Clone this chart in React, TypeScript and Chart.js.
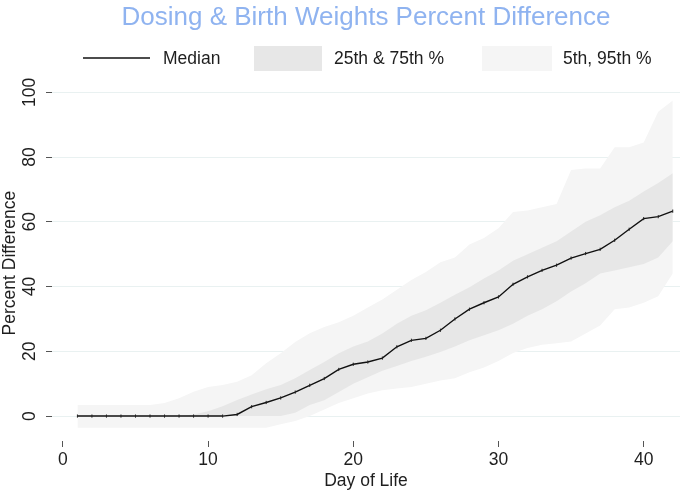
import React, { useEffect, useRef } from 'react';
import { Chart, registerables } from 'chart.js';

Chart.register(...registerables);

const titleText = 'Dosing & Birth Weights Percent Difference';
const xTitle = 'Day of Life';
const yTitle = 'Percent Difference';
const legendLabels = ['Median', '25th & 75th %', '5th, 95th %'];
const xTicks = [0, 10, 20, 30, 40];
const yTicks = [0, 20, 40, 60, 80, 100];

const days = [1, 2, 3, 4, 5, 6, 7, 8, 9, 10, 11, 12, 13, 14, 15, 16, 17, 18, 19, 20, 21, 22, 23, 24, 25, 26, 27, 28, 29, 30, 31, 32, 33, 34, 35, 36, 37, 38, 39, 40, 41, 42];

const median = [0, 0, 0, 0, 0, 0, 0, 0, 0, 0, 0, 0.5, 2.9, 4.2, 5.6, 7.4, 9.5, 11.6, 14.4, 16, 16.7, 17.9, 21.4, 23.4, 24, 26.5, 30, 33, 35, 36.8, 40.7, 43, 45, 46.6, 48.8, 50.2, 51.5, 54.3, 57.7, 61, 61.6, 63.3];

const p75 = [0, 0, 0, 0, 0, 0, 0, 0, 0.5, 1.5, 3, 5, 6.7, 8.3, 9.6, 11.7, 14.2, 16.7, 19.4, 21.5, 23, 25.5, 28.5, 31, 32.7, 35, 37.5, 39.8, 42.5, 45, 48, 50, 52, 54, 57, 60, 62, 64.5, 66.5, 69.4, 72, 75];

const p25 = [0, 0, 0, 0, 0, 0, 0, 0, 0, 0, 0, 0, 0, 0, 0, 1, 3.4, 4.9, 7.4, 10, 12, 14, 15.5, 17, 18.3, 19.8, 21.5, 23.4, 25, 26.5, 28.5, 31, 33, 35.5, 38.5, 41, 44, 45, 46, 47, 49, 54];

const p95 = [3.4, 3.4, 3.4, 3.4, 3.4, 3.4, 4, 5.5, 7.5, 9, 9.6, 10.6, 12.6, 16.3, 19.4, 22.9, 25.6, 27.5, 29, 31, 33.5, 36, 39, 42, 44.5, 47.5, 49, 53, 55, 58, 63, 63.5, 64.5, 65.5, 76, 76.5, 76.5, 83, 83, 84.5, 94, 97.5];

const p5 = [-3.6, -3.6, -3.6, -3.6, -3.6, -3.6, -3.6, -3.6, -3.6, -3.6, -3.6, -3.6, -3.6, -3.6, -2.5, -1.5, 0, 2, 4, 5.5, 7, 8, 8.5, 9, 10, 11, 11.7, 13.5, 15, 17, 19.5, 21, 22, 22.5, 23, 25.5, 28, 33, 33.5, 35, 37, 44];

const FONT = "'Liberation Sans', Arial, Helvetica, sans-serif";
const TEXT = '#1e1e1e';
const INNER = '#e7e7e7';
const OUTER = '#f5f5f5';

const toPts = (vals: number[]) => days.map((d, i) => ({ x: d, y: vals[i] }));

const legendPlugin = {
  id: 'stataLegend',
  afterDraw(chart: any) {
    const ctx = chart.ctx;
    ctx.save();
    const cy = 58;
    ctx.strokeStyle = '#111';
    ctx.lineWidth = 1.3;
    ctx.beginPath();
    ctx.moveTo(83, cy);
    ctx.lineTo(150, cy);
    ctx.stroke();
    ctx.fillStyle = INNER;
    ctx.fillRect(254, 46, 68, 25);
    ctx.fillStyle = OUTER;
    ctx.fillRect(482, 46, 70, 25);
    ctx.fillStyle = TEXT;
    ctx.font = `17.5px ${FONT}`;
    ctx.textBaseline = 'middle';
    ctx.textAlign = 'left';
    const xs = [163, 334, 563];
    legendLabels.forEach((t, i) => ctx.fillText(t, xs[i], cy + 1));
    ctx.restore();
  },
};

export default function App() {
  const ref = useRef<HTMLCanvasElement | null>(null);

  useEffect(() => {
    document.body.style.margin = '0';
    const canvas = ref.current;
    if (!canvas) return;
    const chart = new Chart(canvas, {
      type: 'line',
      data: {
        datasets: [
          {
            label: legendLabels[0],
            data: toPts(median),
            borderColor: '#111',
            borderWidth: 1.4,
            pointStyle: 'line',
            pointRotation: 90,
            pointRadius: 1.6,
            pointBorderColor: '#222',
            pointBorderWidth: 1,
            fill: false,
            tension: 0,
          },
          {
            label: '75th',
            data: toPts(p75),
            borderColor: 'transparent',
            borderWidth: 0,
            pointRadius: 0,
            backgroundColor: INNER,
            fill: '+1',
          },
          {
            label: '25th',
            data: toPts(p25),
            borderColor: 'transparent',
            borderWidth: 0,
            pointRadius: 0,
            fill: false,
          },
          {
            label: '95th',
            data: toPts(p95),
            borderColor: 'transparent',
            borderWidth: 0,
            pointRadius: 0,
            backgroundColor: OUTER,
            fill: '+1',
          },
          {
            label: '5th',
            data: toPts(p5),
            borderColor: 'transparent',
            borderWidth: 0,
            pointRadius: 0,
            fill: false,
          },
        ],
      },
      options: {
        animation: false,
        responsive: false,
        layout: { padding: 0 },
        plugins: {
          legend: { display: false },
          tooltip: { enabled: false },
          title: {
            display: true,
            text: titleText,
            color: '#8fb3f0',
            fullSize: false,
            font: { family: FONT, size: 26, weight: 'normal' },
            padding: { top: 2, bottom: 52 },
          },
        },
        scales: {
          x: {
            type: 'linear',
            min: -0.75,
            max: 42.5,
            afterBuildTicks: (s: any) => {
              s.ticks = xTicks.map((v) => ({ value: v }));
            },
            afterFit: (s: any) => {
              s.height = 54;
            },
            grid: { drawOnChartArea: false, drawTicks: true, tickLength: 6, tickColor: '#555', tickWidth: 1 },
            border: { display: false },
            ticks: { padding: 3, color: TEXT, font: { family: FONT, size: 17.5 }, maxRotation: 0, autoSkip: false },
            title: { display: true, text: xTitle, color: TEXT, font: { family: FONT, size: 17.5 }, padding: { top: 0, bottom: 3 } },
          },
          y: {
            type: 'linear',
            min: -7.7,
            max: 102.2,
            afterBuildTicks: (s: any) => {
              s.ticks = yTicks.map((v) => ({ value: v }));
            },
            afterFit: (s: any) => {
              s.width = 52;
            },
            grid: { color: '#e9f1f1', lineWidth: 1, drawTicks: true, tickLength: 6, tickColor: '#555', tickWidth: 1 },
            border: { display: false },
            ticks: { minRotation: 90, maxRotation: 90, crossAlign: 'center', padding: 1.5, color: TEXT, font: { family: FONT, size: 17.5 }, autoSkip: false },
            title: { display: true, text: yTitle, color: TEXT, font: { family: FONT, size: 17.5 }, padding: { top: 0, bottom: 0 } },
          },
        },
      },
      plugins: [legendPlugin],
    } as any);
    return () => chart.destroy();
  }, []);

  return (
    <div style={{ width: 685, height: 495, background: '#fff' }}>
      <canvas ref={ref} width={685} height={495} />
    </div>
  );
}
